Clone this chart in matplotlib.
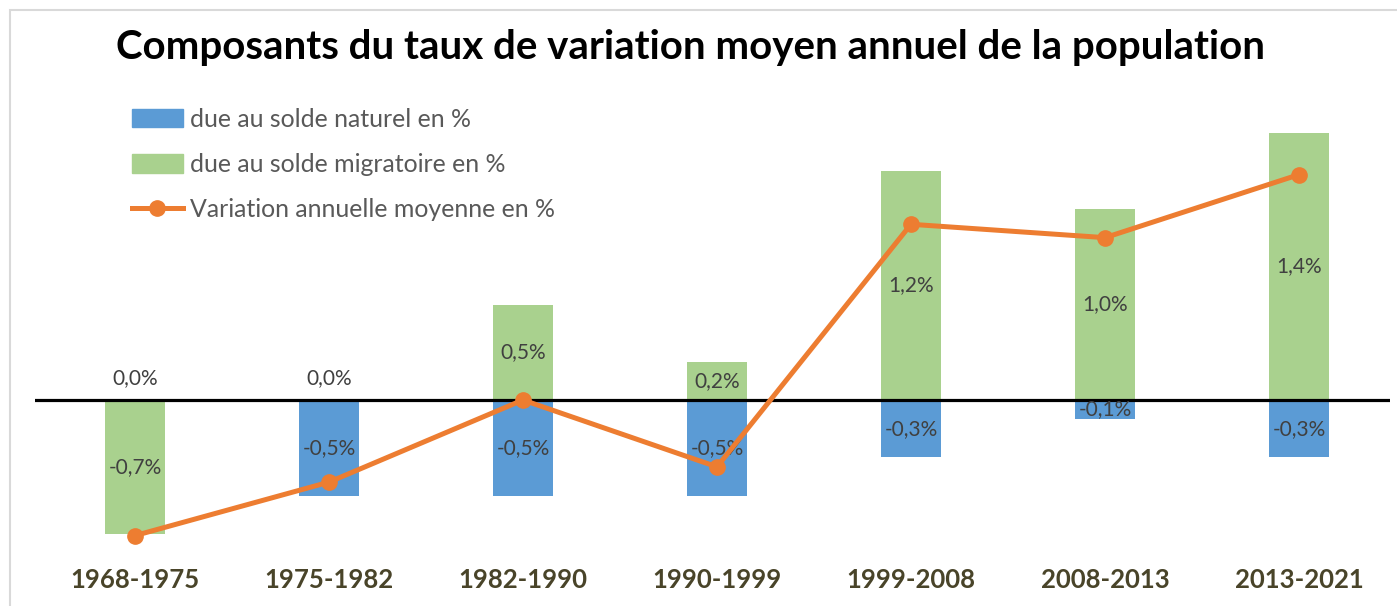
import numpy as np
import matplotlib
matplotlib.use('Agg')
import matplotlib.pyplot as plt
from matplotlib.patches import Rectangle
from matplotlib.lines import Line2D

# Data
periods = ['1968-1975', '1975-1982', '1982-1990', '1990-1999',
           '1999-2008', '2008-2013', '2013-2021']
naturel = [0.0, -0.5, -0.5, -0.5, -0.3, -0.1, -0.3]
migratoire = [-0.7, 0.0, 0.5, 0.2, 1.2, 1.0, 1.4]
variation = [-0.71, -0.43, 0.0, -0.35, 0.92, 0.85, 1.18]

BLUE = '#5B9BD5'
GREEN = '#A9D18E'
ORANGE = '#ED7D31'
LABEL = '#404040'
TICK = '#494429'

plt.rcParams['font.family'] = ['Lato', 'DejaVu Sans']

W, H = 1397, 606
fig = plt.figure(figsize=(W / 100, H / 100), dpi=100)
# axes in pixel terms: left 35, right 1390, top 100, bottom 560
ax = fig.add_axes([35 / W, 1 - 560 / H, (1390 - 35) / W, (560 - 100) / H])

x = np.arange(len(periods))
bw = 0.31
ax.bar(x, naturel, bw, color=BLUE, zorder=2)
ax.bar(x, migratoire, bw, color=GREEN, zorder=2)
ax.axhline(0, color='black', lw=2.3, zorder=3)

# data labels
def put_label(xi, v):
    txt = f'{v:.1f}%'.replace('.', ',')
    y = 0.115 if v == 0 else v / 2
    ax.text(xi, y, txt, ha='center', va='center', fontsize=15, color=LABEL, zorder=4)

for i in range(len(periods)):
    put_label(x[i], naturel[i])
    put_label(x[i], migratoire[i])

ax.plot(x, variation, color=ORANGE, lw=3.6, marker='o', ms=11, zorder=5)

ax.set_xlim(-0.515, 6.469)
ax.set_ylim(-(560 - 400) / 191, (400 - 100) / 191)
ax.set_xticks(x)
ax.set_xticklabels(periods, fontsize=18.5, fontweight='bold', color=TICK)
ax.tick_params(axis='x', length=0, pad=6)
ax.set_yticks([])
for s in ax.spines.values():
    s.set_visible(False)

# legend
handles = [Rectangle((0, 0), 1, 1, color=BLUE),
           Rectangle((0, 0), 1, 1, color=GREEN),
           Line2D([], [], color=ORANGE, lw=3.6, marker='o', ms=11)]
labels = ['due au solde naturel en %', 'due au solde migratoire en %',
          'Variation annuelle moyenne en %']
leg = fig.legend(handles, labels, loc='upper left', bbox_to_anchor=(132 / W, 1 - 108 / H),
                 frameon=False, fontsize=17.9, handlelength=2.05, handleheight=0.75,
                 handletextpad=0.28, labelspacing=0.89, borderpad=0, borderaxespad=0)
for t in leg.get_texts():
    t.set_color('#595959')

fig.text(691 / W, 1 - 47 / H, 'Composants du taux de variation moyen annuel de la population',
         ha='center', va='center', fontsize=29, fontweight='bold', color='black')

# chart border
fig.patches.append(Rectangle((10 / W, -0.1), 2, 1.1 - 10 / H, transform=fig.transFigure,
                             fill=False, edgecolor='#d9d9d9', lw=1.5))

fig.savefig('out.png', dpi=100)
